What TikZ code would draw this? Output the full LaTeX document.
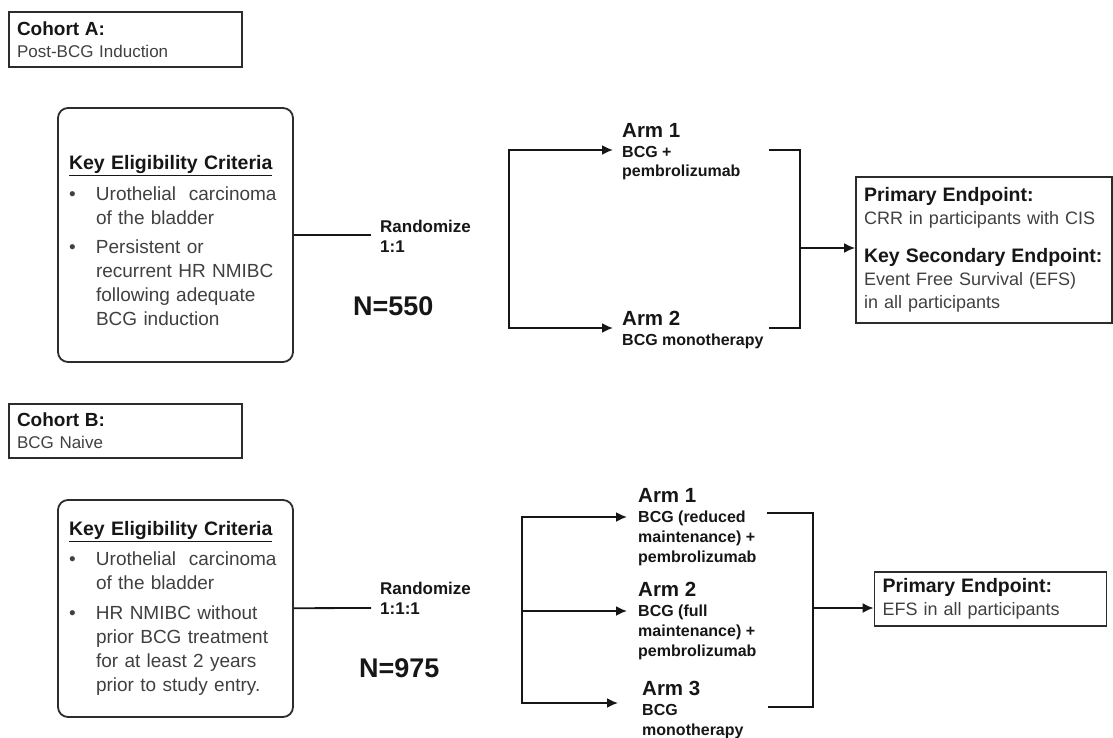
\documentclass[tikz,border=0pt]{standalone}
\usepackage{fontspec}
\setmainfont{Liberation Sans}
\usetikzlibrary{arrows.meta, positioning}
\definecolor{ink}{HTML}{161616}
\definecolor{txt}{HTML}{404040}
\definecolor{frame}{HTML}{2C2C2C}
\newcommand{\fsz}[2]{\fontsize{#1}{#2}\selectfont}
\newcommand{\hd}[1]{{\color{ink}\bfseries\fontsize{19.5}{23}\selectfont #1}}
\newcommand{\bitem}[1]{\makebox[27pt][l]{\textbullet}#1}
\newcommand{\bcont}[1]{\hspace*{27pt}#1}
\begin{document}
\begin{tikzpicture}[
         x=1pt, y=-1pt,
         line/.style={draw=ink, line width=1.8pt},
         arrow/.style={line, -{Latex[length=11pt,width=10pt]}},
         fork/.style={line, {Latex[length=11pt,width=10pt]}-{Latex[length=11pt,width=10pt]}},
         cohort/.style={draw=frame, line width=1.8pt, align=left, text=txt,
                        inner xsep=8pt, inner ysep=0pt, text width=217pt,
                        minimum height=55pt, font=\fsz{17}{22}},
         criteria/.style={draw=frame, line width=1.8pt, rounded corners=10pt,
                          align=left, text=txt, inner xsep=11pt, inner ysep=0pt,
                          text width=213pt, font=\fsz{19}{24}},
         endpoint/.style={draw=frame, line width=1.8pt, align=left, text=txt,
                          inner xsep=8pt, inner ysep=0pt, font=\fsz{18}{23}},
         arm/.style={anchor=base west, align=left, inner ysep=0pt, text=ink,
                     font=\bfseries\fsz{16}{19.7}},
         rand/.style={anchor=base west, align=left, inner sep=0pt, text=ink,
                      font=\bfseries\fsz{17}{20}},
         total/.style={anchor=base west, inner sep=0pt, text=ink,
                       font=\bfseries\fsz{27}{30}}
      ]
         \useasboundingbox (0,0) rectangle (1113,738);

         % Cohort A (multi-line nodes sit on their last baseline)
         \node[cohort] (cohA) at (125.5,39.5) {\textbf{\color{ink}\fontsize{19}{22}\selectfont Cohort A:}\\Post-BCG Induction};
         \node[criteria, minimum height=254pt] (eligA) at (175.5,235) {%
            \rule{0pt}{26pt}{\color{ink}\bfseries\fontsize{19.5}{24}\selectfont\underline{Key Eligibility Criteria}}\\[7pt]
            \bitem{Urothelial\ \ carcinoma}\\
            \bcont{of the bladder}\\[5pt]
            \bitem{Persistent or}\\
            \bcont{recurrent HR NMIBC}\\
            \bcont{following adequate}\\
            \bcont{BCG induction}};
         \coordinate (rA) at (371,235);
         \node[rand] (randA) at (380,252) {Randomize\\1:1};
         \node[total] (nA) at (353,315) {N=550};

         % Arms of cohort A
         \node[arm, inner xsep=9pt] (a1A) at (613,177) {{\fontsize{20.5}{20}\selectfont Arm 1}\\BCG +\\pembrolizumab};
         \node[arm, inner xsep=9pt] (a2A) at (613,345) {{\fontsize{20.5}{20}\selectfont Arm 2}\\BCG monotherapy};
         \coordinate (sA1) at (509,150);
         \coordinate (sA2) at (509,328);
         \coordinate (jA) at (800,248);
         \node[endpoint, text width=240pt, minimum height=146pt] (endA) at (984,250) {%
            \hd{Primary Endpoint:}\\
            CRR in participants with CIS\\[15pt]
            \hd{Key Secondary Endpoint:}\\
            Event Free Survival (EFS)\\
            in all participants};

         \draw[line] (eligA) -- (rA);
         \draw[fork] (a1A.west |- sA1) -- (sA1) -- (sA2) -- (a2A.west |- sA2);
         \draw[line] (769,150) -- (jA |- sA1) -- (jA |- sA2) -- (769,328);
         \draw[arrow] (jA) -- (jA -| endA.west);

         % Cohort B
         \node[cohort, minimum height=54pt] (cohB) at (125.5,431) {\textbf{\color{ink}\fontsize{19}{22}\selectfont Cohort B:}\\BCG Naive};
         \node[criteria, minimum height=217pt] (eligB) at (175.5,608.5) {%
            {\color{ink}\bfseries\fontsize{19.5}{24}\selectfont\underline{Key Eligibility Criteria}}\\[6pt]
            \bitem{Urothelial\ \ carcinoma}\\
            \bcont{of the bladder}\\[6pt]
            \bitem{HR NMIBC without}\\
            \bcont{prior BCG treatment}\\
            \bcont{for at least 2 years}\\
            \bcont{prior to study entry.}};
         \coordinate (rB) at (371,608);
         \node[rand] (randB) at (380,614) {Randomize\\1:1:1};
         \node[total] (nB) at (359,677) {N=975};

         % Arms of cohort B
         \node[arm, inner xsep=11pt] (a1B) at (627,562) {{\fontsize{20.5}{20}\selectfont Arm 1}\\BCG (reduced\\maintenance) +\\pembrolizumab};
         \node[arm, inner xsep=11pt] (a2B) at (627,656) {{\fontsize{20.5}{20}\selectfont Arm 2}\\BCG (full\\maintenance) +\\pembrolizumab};
         \node[arm, inner xsep=24pt] (a3B) at (618,735) {{\fontsize{20.5}{20}\selectfont Arm 3}\\BCG\\monotherapy};
         \coordinate (sB1) at (522,517);
         \coordinate (sB2) at (522,611);
         \coordinate (sB3) at (522,703);
         \coordinate (jB) at (813,608);
         \node[endpoint, text width=216pt, minimum height=54pt] (endB) at (990.5,599) {%
            \hd{Primary Endpoint:}\\
            EFS in all participants};

         \draw[line] (eligB) -- (rB);
         \draw[fork] (a1B.west |- sB1) -- (sB1) -- (sB3) -- (a3B.west |- sB3);
         \draw[arrow] (sB2) -- (a2B.west |- sB2);
         \draw[line] (767,513) -- (jB |- 0,513) -- (jB |- 0,707) -- (768,707);
         \draw[arrow] (jB) -- (jB -| endB.west);
      \end{tikzpicture}
\end{document}
